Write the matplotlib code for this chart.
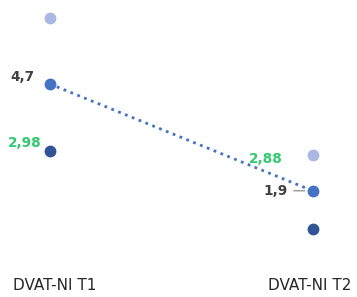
import matplotlib
matplotlib.use('Agg')
import matplotlib.pyplot as plt

# --- данные ---
categories = ['DVAT-NI T1', 'DVAT-NI T2']
light_vals = [6.43, 2.84]
mid_vals = [4.7, 1.9]
dark_vals = [2.95, 0.90]
mid_labels = ['4,7', '1,9']
green_labels = ['2,98', '2,88']

LIGHT = '#a9b9e2'
MID = '#4472c4'
DARK = '#2f5597'
GREEN = '#33c96e'
GREY = '#404040'

fig = plt.figure(figsize=(3.57, 2.97), dpi=100)
ax = fig.add_axes([0, 0, 1, 1])
ax.set_xlim(-0.190, 1.167)
ax.set_ylim(-0.876, 6.899)
ax.axis('off')

x = list(range(len(categories)))

ax.plot(x, mid_vals, linestyle=':', color=MID, linewidth=2, zorder=1)
ax.plot(x, light_vals, 'o', color=LIGHT, markersize=7.5, zorder=2)
ax.plot(x, mid_vals, 'o', color=MID, markersize=7.5, zorder=2)
ax.plot(x, dark_vals, 'o', color=DARK, markersize=7.5, zorder=2)

# подписи значений
lbl = dict(ha='right', va='center', fontsize=9.8, fontweight='bold',
           textcoords='offset points')
ax.annotate(mid_labels[0], (x[0], mid_vals[0]), xytext=(-10.8, 4.7), color=GREY, **lbl)
ax.annotate(mid_labels[1], (x[1], mid_vals[1]), xytext=(-18, 0.3), color=GREY,
            arrowprops=dict(arrowstyle='-', color='#808080', lw=0.8,
                            shrinkA=2, shrinkB=6), **lbl)
ax.annotate(green_labels[0], (x[0], dark_vals[0]), xytext=(-5.8, 5.8), color=GREEN, **lbl)
ax.annotate(green_labels[1], (x[1], light_vals[1]), xytext=(-21.6, -2.9), color=GREEN, **lbl)

# подписи категорий
for xi, name, dx in zip(x, categories, [0.017, -0.013]):
    ax.text(xi + dx, -0.588, name, ha='center', va='center', color='#262626', fontsize=11)

fig.savefig('out.png', dpi=100)
